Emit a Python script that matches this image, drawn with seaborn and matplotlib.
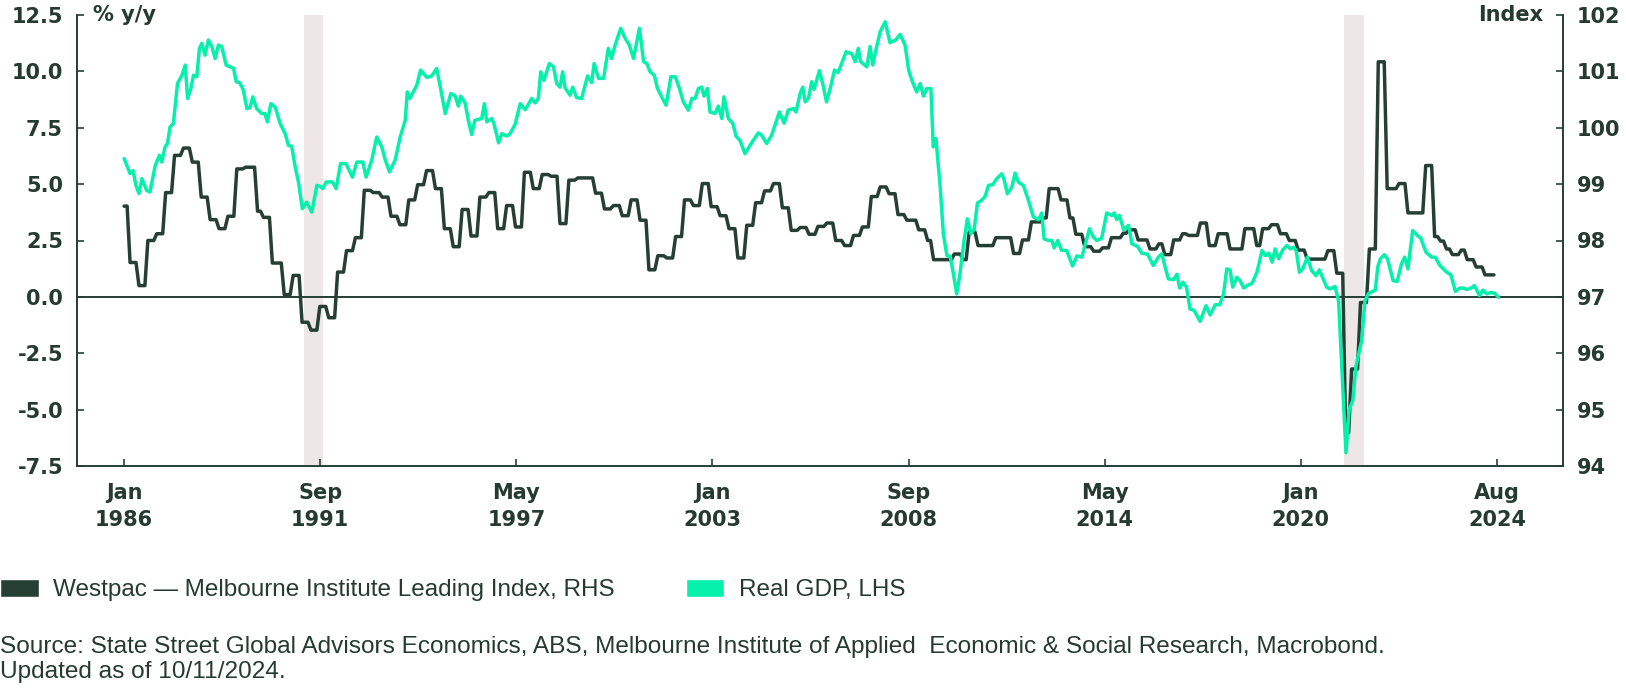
import numpy as np
import pandas as pd
import matplotlib
matplotlib.use("Agg")
import matplotlib.pyplot as plt
from matplotlib.patches import Patch
import seaborn as sns

sns.set_theme(style="white")
plt.rcParams['font.family'] = ['DejaVu Sans']

DARK = "#263f34"
MINT = "#05f0aa"
SHADE = "#ede8e7"
TEXT = "#253b31"

# months counted from Jan 1986 (= 0); Aug 2024 = 463
n_months = 463

# Westpac-Melbourne Institute leading index (RHS), stepped: month where each level starts
lead_start = [0, 2, 5, 8, 11, 14, 17, 20, 23, 26, 29, 32, 35, 38, 41, 45, 47, 50, 54, 57,
              60, 63, 66, 69, 72, 75, 78, 81, 84, 87, 90, 93, 96, 99, 102, 105, 108, 111, 114, 117,
              120, 123, 126, 129, 132, 135, 138, 141, 144, 147, 150, 153, 159, 162, 165, 168, 171, 174, 177, 180,
              183, 186, 189, 192, 195, 198, 201, 204, 207, 210, 213, 216, 219, 222, 225, 228, 231, 234, 237, 240,
              243, 246, 249, 252, 255, 258, 261, 264, 268, 271, 273, 280, 283, 285, 288, 294, 300, 303, 306, 310,
              312, 316, 319, 321, 324, 327, 330, 333, 337, 339, 342, 346, 349, 351, 354, 357, 359, 363, 366, 369,
              373, 378, 382, 384, 387, 390, 393, 396, 399, 406, 409, 412, 414, 417, 420, 423, 426, 430, 433, 439,
              442, 444, 446, 448, 451, 453, 456, 459]
lead_level = [98.61, 97.61, 97.20, 98.00, 98.12, 98.85, 99.51, 99.64, 99.39, 98.77, 98.37, 98.21, 98.43, 99.27, 99.30, 98.52, 98.41, 97.60, 97.04, 97.38,
              96.55, 96.41, 96.83, 96.63, 97.44, 97.82, 98.05, 98.89, 98.85, 98.77, 98.43, 98.28, 98.72, 98.99, 99.24, 98.92, 98.21, 97.89, 98.55, 98.08,
              98.77, 98.85, 98.21, 98.62, 98.24, 99.21, 98.92, 99.17, 99.14, 98.30, 99.07, 99.11, 98.84, 98.56, 98.62, 98.44, 98.72, 98.36, 97.48, 97.73,
              97.69, 98.07, 98.72, 98.62, 99.01, 98.60, 98.44, 98.21, 97.69, 98.27, 98.67, 98.88, 99.01, 98.58, 98.18, 98.23, 98.11, 98.25, 98.31, 98.00,
              97.91, 98.09, 98.24, 98.78, 98.95, 98.83, 98.46, 98.36, 98.19, 98.00, 97.66, 97.76, 97.66, 98.15, 97.91, 98.05, 97.77, 98.01, 98.33, 98.40,
              98.92, 98.72, 98.40, 98.11, 97.89, 97.81, 97.87, 98.05, 98.13, 98.19, 98.01, 97.85, 97.94, 97.75, 98.01, 98.12, 98.09, 98.31, 97.91, 98.12,
              97.85, 98.21, 97.91, 98.21, 98.28, 98.12, 98.00, 97.83, 97.67, 97.82, 97.42, 94.59, 95.72, 96.90, 97.85, 101.17, 98.92, 99.01, 98.49, 99.33,
              98.07, 97.99, 97.85, 97.75, 97.83, 97.66, 97.53, 97.39]

# Real GDP % y/y (LHS)
gdp_month = [0, 2, 3, 4, 5, 6, 7.6, 8.7, 10.5, 11.9,
             12.7, 13.8, 14.6, 15.5, 16.6, 18, 19.5, 20.6, 21.4, 22.5,
             23.4, 24.5, 25.4, 26.2, 27.3, 28.4, 29.6, 30.7, 31.8, 32.9,
             34.4, 35.8, 36.9, 37.8, 39, 40.2, 41.4, 42.5, 43.4, 44.7,
             46.4, 47.5, 48.3, 49.5, 51, 52.6, 54.3, 55.4, 56.5, 57.7,
             58.8, 60.1, 61.6, 63.3, 65, 66.1, 67, 68.1, 69.4, 70.3,
             71.5, 73, 74.8, 77, 78.5, 80.5, 81.6, 83.5, 85.2, 86.9,
             88, 89.5, 91.4, 93.1, 94.8, 95.5, 96.4, 98.7, 100, 102.1,
             103.8, 105.4, 106.5, 108.3, 110.2, 111.7, 112.7, 113.5, 115, 116.1,
             117.2, 118.3, 120.6, 121.5, 122.3, 124, 124.7, 126.3, 127.4, 129.1,
             130.2, 131.9, 133.6, 135.3, 137.5, 138.6, 139.7, 140.5, 141.6, 143.4,
             144.8, 145.9, 147, 147.9, 148.7, 150.4, 151.3, 152.6, 154.3, 156.3,
             157.7, 158.5, 160, 161.7, 163.3, 164.4, 165.6, 167.5, 169, 170.4,
             171.8, 173.8, 175.2, 176.3, 177.4, 178.8, 179.9, 181.3, 182.8, 184.4,
             185.9, 187.3, 188.6, 190.3, 191.5, 192.6, 193.7, 194.8, 195.6, 196.7,
             197.6, 199.3, 200.4, 201.6, 202.3, 203.8, 205.3, 206.4, 207.7, 209.4,
             211.1, 212.2, 213.9, 215, 216.7, 218.4, 219.5, 221, 222.6, 224,
             225.7, 226.6, 228, 228.9, 229.7, 230.8, 231.9, 232.7, 234.5, 235.6,
             236.9, 238.2, 239.6, 240.8, 242, 243.5, 245.4, 246.6, 247.6, 248.4,
             250.5, 251.6, 252.5, 253.8, 255, 256.7, 258.3, 260.2, 261.7, 263.4,
             264.6, 265.7, 267.3, 268.5, 269.6, 270.7, 272.1, 272.9, 273.8, 275.2,
             276.3, 277.5, 278.6, 279.7, 280.8, 281.9, 283.3, 284.4, 285.6, 286.7,
             287.8, 289.2, 290.4, 291.5, 293, 294.3, 296, 296.8, 297.9, 299.4,
             300.5, 301.6, 303.3, 305, 306.7, 308.4, 309.5, 310.3, 311.8, 312.9,
             313.7, 314.9, 316.2, 317.9, 319.9, 321.4, 323, 324.1, 325.6, 326.9,
             328.1, 329.7, 331.4, 333.1, 333.9, 334.8, 335.7, 337.1, 338.8, 339.9,
             341.8, 343.2, 345.2, 347.1, 348.8, 350, 351.1, 352.2, 353.9, 355.1,
             356, 357.1, 358.3, 359.5, 360.9, 362.9, 364.9, 366.3, 368, 369.5,
             370.8, 371.9, 373, 373.9, 375.3, 376.4, 377.6, 378.7, 380.4, 382.1,
             383.8, 384.9, 386.1, 387.2, 388.2, 389.4, 390.8, 392.2, 393.3, 394.4,
             395.3, 396.4, 397.5, 399.1, 400.5, 402, 403.1, 405.6, 406.8, 408.4,
             409.6, 410.6, 412.1, 413.2, 414.4, 415.5, 417.4, 418.5, 419.7, 422,
             422.8, 423.7, 425, 426.1, 428, 429.4, 430.8, 431.9, 433, 434.6,
             436.2, 437.3, 439.1, 441, 442.2, 443.8, 446.1, 447.5, 449, 450.5,
             451.8, 452.9, 454.3, 455.4, 456.3, 457.1, 458.3, 459.6, 461, 462.4,
             463.5]
gdp_yoy = [6.13, 5.47, 5.60, 4.94, 4.58, 5.24, 4.72, 4.65, 5.83, 6.28,
           5.98, 6.65, 6.80, 7.54, 7.69, 9.46, 9.83, 10.28, 8.80, 9.24,
           9.83, 9.76, 11.02, 11.24, 10.72, 11.39, 11.09, 10.57, 11.17, 11.10,
           10.28, 10.20, 10.13, 9.54, 9.50, 9.17, 8.35, 8.40, 8.87, 8.35,
           8.13, 8.13, 7.76, 8.57, 8.40, 7.69, 7.24, 6.72, 6.68, 5.76,
           5.09, 3.91, 4.20, 3.76, 4.94, 4.90, 4.80, 5.09, 5.10, 5.09,
           4.80, 5.91, 5.91, 5.31, 5.98, 5.98, 5.31, 6.06, 7.09, 6.65,
           6.10, 5.54, 6.06, 7.09, 7.83, 9.09, 8.80, 9.39, 10.06, 9.73,
           9.80, 10.13, 9.40, 8.13, 9.02, 8.90, 8.46, 8.90, 8.60, 7.83,
           7.20, 7.83, 7.91, 8.57, 7.76, 7.91, 7.69, 6.83, 7.24, 7.13,
           7.24, 7.66, 8.57, 8.30, 8.80, 8.60, 8.80, 9.98, 9.60, 10.35,
           10.20, 9.46, 9.30, 9.98, 9.28, 8.94, 9.30, 8.84, 8.80, 9.80,
           9.50, 10.35, 9.69, 9.69, 11.02, 10.57, 11.17, 11.91, 11.46, 11.17,
           10.57, 11.91, 10.43, 10.35, 9.98, 9.83, 9.24, 8.87, 8.50, 9.76,
           9.76, 9.24, 8.65, 8.28, 8.80, 8.80, 9.24, 9.30, 8.90, 9.24,
           8.20, 8.13, 8.46, 7.91, 8.87, 7.91, 7.69, 7.12, 6.94, 6.35,
           6.72, 6.94, 7.27, 7.17, 6.80, 7.17, 7.60, 8.20, 7.70, 8.28,
           8.35, 8.20, 9.02, 9.30, 8.65, 8.80, 9.54, 9.20, 10.03, 9.46,
           8.65, 9.27, 10.06, 9.95, 10.35, 10.87, 10.78, 10.43, 11.02, 10.43,
           10.20, 11.10, 10.28, 11.09, 11.76, 12.20, 11.27, 11.39, 11.64, 11.17,
           10.06, 9.60, 9.09, 9.46, 8.90, 9.24, 9.24, 6.65, 7.02, 4.94,
           2.80, 1.83, 1.80, 1.02, 0.13, 1.00, 2.50, 3.46, 2.80, 3.00,
           4.16, 4.28, 4.46, 4.94, 4.98, 5.24, 5.46, 5.20, 4.57, 4.87,
           5.49, 5.09, 4.94, 4.28, 3.54, 3.42, 3.72, 2.57, 2.50, 2.50,
           2.17, 2.50, 2.06, 2.06, 1.37, 1.82, 1.76, 2.30, 3.02, 2.65,
           2.50, 2.60, 3.72, 3.61, 3.72, 3.43, 3.61, 2.98, 3.17, 2.35,
           2.24, 1.94, 1.89, 1.39, 1.76, 1.91, 1.32, 0.80, 0.76, 1.00,
           0.39, 0.65, 0.43, -0.54, -0.60, -1.09, -0.39, -0.80, -0.35, -0.35,
           0.13, 1.24, 1.20, 0.43, 0.87, 0.72, 0.39, 0.50, 0.60, 1.10,
           2.06, 1.83, 1.94, 1.54, 2.13, 1.69, 2.09, 2.28, 2.13, 2.20,
           2.06, 1.09, 1.24, 1.76, 1.17, 0.94, 1.20, 0.43, 0.35, 0.46,
           -0.17, -2.83, -6.91, -4.98, -4.60, -3.06, -1.94, -0.17, 0.15, 0.30,
           1.32, 1.69, 1.87, 1.69, 0.72, 0.69, 1.46, 1.76, 1.24, 2.94,
           2.72, 2.61, 1.98, 1.76, 1.76, 1.39, 1.09, 0.98, 0.24, 0.39,
           0.39, 0.33, 0.39, 0.50, 0.28, 0.06, 0.30, 0.13, 0.20, 0.15,
           -0.02]

# recession shading (months)
rec_start = [60.7, 411.5]
rec_end = [67.0, 418.3]

tick_labels = ["Jan\n1986", "Sep\n1991", "May\n1997", "Jan\n2003",
               "Sep\n2008", "May\n2014", "Jan\n2020", "Aug\n2024"]
left_ticks = [-7.5, -5.0, -2.5, 0.0, 2.5, 5.0, 7.5, 10.0, 12.5]
right_ticks = [94, 95, 96, 97, 98, 99, 100, 101, 102]

lead_monthly = np.repeat(lead_level, np.diff(lead_start + [n_months]))
df_lead = pd.DataFrame({"month": np.arange(n_months), "index": lead_monthly})
df_gdp = pd.DataFrame({"month": gdp_month, "yoy": gdp_yoy})

fig = plt.figure(figsize=(16.26, 6.9), dpi=100, facecolor="white")
ax = fig.add_axes([77 / 1626, 1 - 466 / 690, (1563 - 77) / 1626, (466 - 15) / 690])
ax2 = ax.twinx()
ax.set_zorder(ax2.get_zorder() + 1)
ax.patch.set_visible(False)

for s, e in zip(rec_start, rec_end):
  ax2.axvspan(s, e, color=SHADE, lw=0, zorder=0)

ax.axhline(0, color=DARK, lw=1.4, zorder=1)
sns.lineplot(data=df_lead, x="month", y="index", ax=ax2, color=DARK, lw=2.5)
sns.lineplot(data=df_gdp, x="month", y="yoy", ax=ax, color=MINT, lw=2.5, zorder=3)

ax.set_xlim(-15.9, 485.3)
ax.set_ylim(-7.5, 12.5)
ax2.set_ylim(94, 102)
for a in (ax, ax2):
  a.set_xlabel("")
  a.set_ylabel("")
  for sp in a.spines.values():
    sp.set_visible(False)
ax.spines["left"].set_visible(True)
ax.spines["bottom"].set_visible(True)
ax2.spines["right"].set_visible(True)
for sp in (ax.spines["left"], ax.spines["bottom"], ax2.spines["right"]):
  sp.set_color(DARK)
  sp.set_linewidth(1.4)

ax.set_yticks(left_ticks, [f"{v:.1f}" for v in left_ticks])
ax2.set_yticks(right_ticks, [str(v) for v in right_ticks])
ax.set_xticks(np.linspace(0, n_months, len(tick_labels)), tick_labels)

ax.tick_params(axis="y", direction="in", length=5, width=1.2, color=DARK,
               pad=10, labelsize=15, labelcolor=TEXT, left=True)
ax2.tick_params(axis="y", direction="in", length=5, width=1.2, color=DARK,
                pad=10, labelsize=15, labelcolor=TEXT, right=True)
ax.tick_params(axis="x", direction="in", length=5, width=1.2, color=DARK,
               pad=12, labelsize=15, labelcolor=TEXT, bottom=True)
for lbl in ax.get_yticklabels() + ax2.get_yticklabels():
  lbl.set_fontweight("bold")
for lbl in ax.get_xticklabels():
  lbl.set_fontweight("bold")
  lbl.set_linespacing(1.45)
ax.grid(False)
ax2.grid(False)

fig.text(93 / 1626, 1 - 15 / 690, "% y/y", ha="left", va="center",
         fontsize=15, fontweight="bold", color=TEXT)
fig.text(1543 / 1626, 1 - 15 / 690, "Index", ha="right", va="center",
         fontsize=15, fontweight="bold", color=TEXT)

handles = [Patch(facecolor=DARK, label="Westpac \u2014 Melbourne Institute Leading Index, RHS"),
           Patch(facecolor=MINT, label="Real GDP, LHS")]
fig.legend(handles=handles, loc="center left", bbox_to_anchor=(0, 1 - 590 / 690),
           ncol=2, frameon=False, borderpad=0, borderaxespad=0,
           handlelength=1.6, handleheight=0.82, handletextpad=0.6, columnspacing=2.9,
           prop={"family": "Liberation Sans", "size": 17.5}, labelcolor=TEXT)

fig.text(0, 1 - 647 / 690,
         "Source: State Street Global Advisors Economics, ABS, Melbourne Institute of Applied  Economic & Social Research, Macrobond.",
         ha="left", va="center", fontsize=17.6, family="Liberation Sans", color=TEXT)
fig.text(0, 1 - 672 / 690, "Updated as of 10/11/2024.",
         ha="left", va="center", fontsize=17.6, family="Liberation Sans", color=TEXT)

fig.savefig("out.png", dpi=100, facecolor="white")
